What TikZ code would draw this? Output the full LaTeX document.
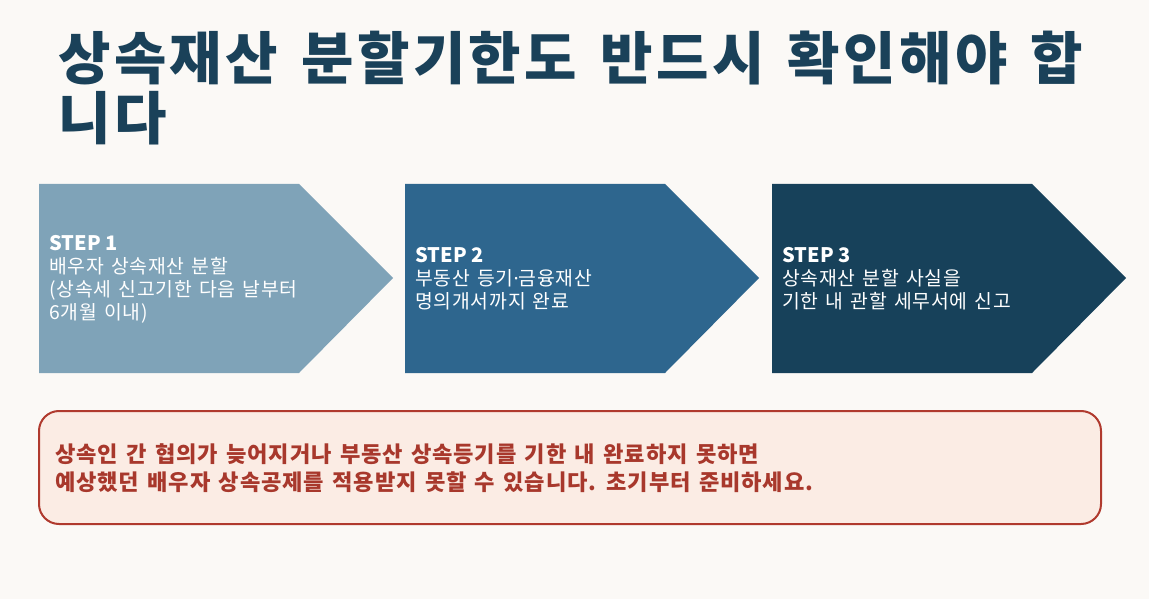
\documentclass[tikz,border=0pt]{standalone}
\usepackage{fontspec}
\setmainfont{Noto Sans CJK KR}[LetterSpace=4, WordSpace=1.4]
\newfontfamily\titlefont{Noto Sans CJK KR}[LetterSpace=6, WordSpace=1.4]
\newfontfamily\headfont{Noto Sans CJK KR}
\newfontfamily\dotfont{Noto Sans}
\definecolor{bgc}{HTML}{FBF9F6}
\definecolor{aone}{HTML}{7FA3B8}
\definecolor{atwo}{HTML}{2E668E}
\definecolor{athree}{HTML}{17415A}
\definecolor{titlec}{HTML}{1A4159}
\definecolor{warnfill}{HTML}{FBECE4}
\definecolor{warnline}{HTML}{B03A2E}
\definecolor{warntext}{HTML}{A8382C}
\tikzset{
  titletext/.style={anchor=base west, inner sep=0pt, text=titlec, font=\titlefont\fontsize{42.75}{45}\selectfont\bfseries},
  steptext/.style={anchor=west, inner sep=0pt, text=white, align=left, font=\fontsize{14.5}{17.25}\selectfont},
  warnbox/.style={draw=warnline, fill=warnfill, line width=1.5pt, rounded corners=15pt},
  warntxt/.style={anchor=west, inner sep=0pt, text=warntext, align=left, font=\fontsize{16.6}{20.5}\selectfont\bfseries}
}
\newcommand{\stephead}[1]{{\headfont\fontsize{15}{17.25}\selectfont\bfseries #1}}
\begin{document}
\begin{tikzpicture}[x=0.75pt,y=-0.75pt]
\fill[bgc] (0,0) rectangle (1149,599);
\useasboundingbox (0,0) rectangle (1149,599);
% title
\node[titletext] (t1) at (58,80) {상속재산 분할기한도 반드시 확인해야 합};
\node[titletext] (t2) at (58,140) {니다};
% chevrons
\fill[aone] (39,184) -- (299,184) -- (393,278) -- (299,373) -- (39,373) -- cycle;
\fill[atwo] (405,184) -- (665,184) -- (759,278) -- (665,373) -- (405,373) -- cycle;
\fill[athree] (772,184) -- (1032,184) -- (1126,278) -- (1032,373) -- (772,373) -- cycle;
\node[steptext] (s1) at (49,279) {\stephead{STEP 1}\\배우자 상속재산 분할\\(상속세 신고기한 다음 날부터\\6개월 이내)};
\node[steptext] (s2) at (415,279) {\stephead{STEP 2}\\부동산 등기{\dotfont·}금융재산\\명의개서까지 완료};
\node[steptext] (s3) at (782,279) {\stephead{STEP 3}\\상속재산 분할 사실을\\기한 내 관할 세무서에 신고};
% warning
\draw[warnbox] (39,411) rectangle (1101,524);
\node[warntxt] (w) at (55,468) {상속인 간 협의가 늦어지거나 부동산 상속등기를 기한 내 완료하지 못하면\\예상했던 배우자 상속공제를 적용받지 못할 수 있습니다. 초기부터 준비하세요.};
\end{tikzpicture}
\end{document}
